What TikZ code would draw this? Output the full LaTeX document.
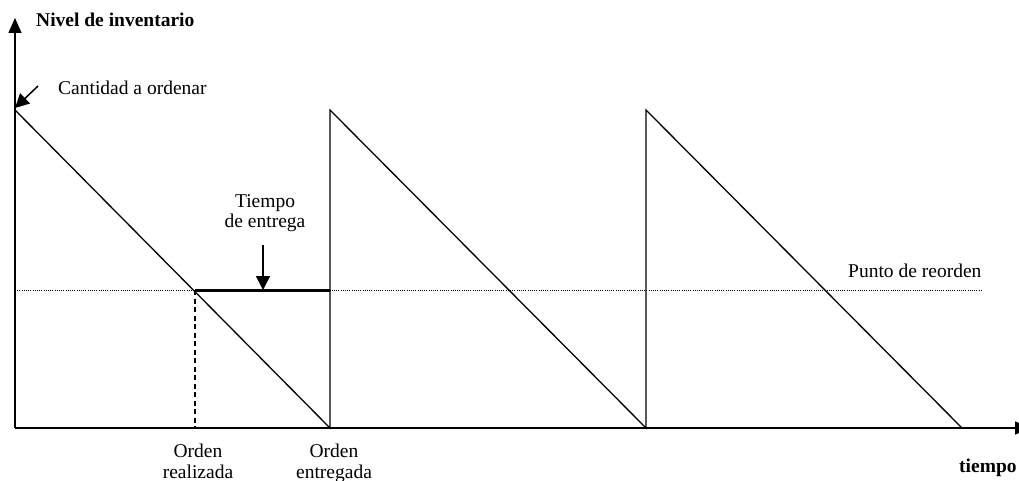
\documentclass[tikz,border=0pt]{standalone}
\usepackage{fontspec}
\setmainfont{Liberation Serif}
\usetikzlibrary{arrows.meta}
\begin{document}
\begin{tikzpicture}[x=1pt,y=-1pt,
  lbl/.style={font=\fontsize{19.5}{20.5}\selectfont,inner sep=0pt},
  blbl/.style={font=\fontsize{19.5}{20.5}\selectfont\bfseries,inner sep=0pt},
  axis/.style={line width=1.6pt,-{Triangle[length=15pt,width=13pt]}},
  saw/.style={line width=1.3pt},
  pointer/.style={line width=1.5pt,-{Triangle[length=14pt,width=14pt]}},
  reorder/.style={line width=1pt,dash pattern=on 1pt off 1.2pt},
  lead/.style={line width=3pt},
  placed/.style={line width=1.3pt,dash pattern=on 5pt off 3.5pt}]
\useasboundingbox (0,0) rectangle (1019,481);
% key points
\coordinate (o) at (15,428);
\coordinate (ytip) at (15,18);
\coordinate (xtip) at (1030,428);
\coordinate (p1) at (15,110);
\coordinate (b1) at (330,428);
\coordinate (p2) at (330,110);
\coordinate (b2) at (646,428);
\coordinate (p3) at (646,110);
\coordinate (b3) at (962,428);
\coordinate (r0) at (15,290);
\coordinate (r1) at (983,290);
\coordinate (ra) at (195,290);
\coordinate (rb) at (330,290);
\coordinate (rbase) at (195,428);
\coordinate (ltop) at (263,245);
\coordinate (lbot) at (263,290);
\coordinate (ctail) at (38,86);
\coordinate (chead) at (15,108);
% axes
\draw[axis] (o) -- (ytip);
\draw[axis] (o) -- (xtip);
% sawtooth
\draw[saw] (p1) -- (b1) -- (p2) -- (b2) -- (p3) -- (b3);
% reorder point
\draw[reorder] (r0) -- (r1);
\draw[lead] (ra) -- (rb);
\draw[placed] (ra) -- (rbase);
% pointers
\draw[pointer] (ltop) -- (lbot);
\draw[pointer] (ctail) -- (chead);
% labels
\node[blbl,anchor=base west] (nivel) at (36,27) {Nivel de inventario};
\node[lbl,anchor=base west] (cant) at (58,95) {Cantidad a ordenar};
\node[lbl,anchor=base west] (punto) at (848,277) {Punto de reorden};
\node[lbl,anchor=north,align=center] (tiempo) at (265,194) {Tiempo\\de entrega};
\node[lbl,anchor=north,align=center] (oreal) at (198,444) {Orden\\realizada};
\node[lbl,anchor=north,align=center] (oentr) at (334,444) {Orden\\entregada};
\node[blbl,anchor=base west] (t) at (959,472) {tiempo};
\end{tikzpicture}
\end{document}
